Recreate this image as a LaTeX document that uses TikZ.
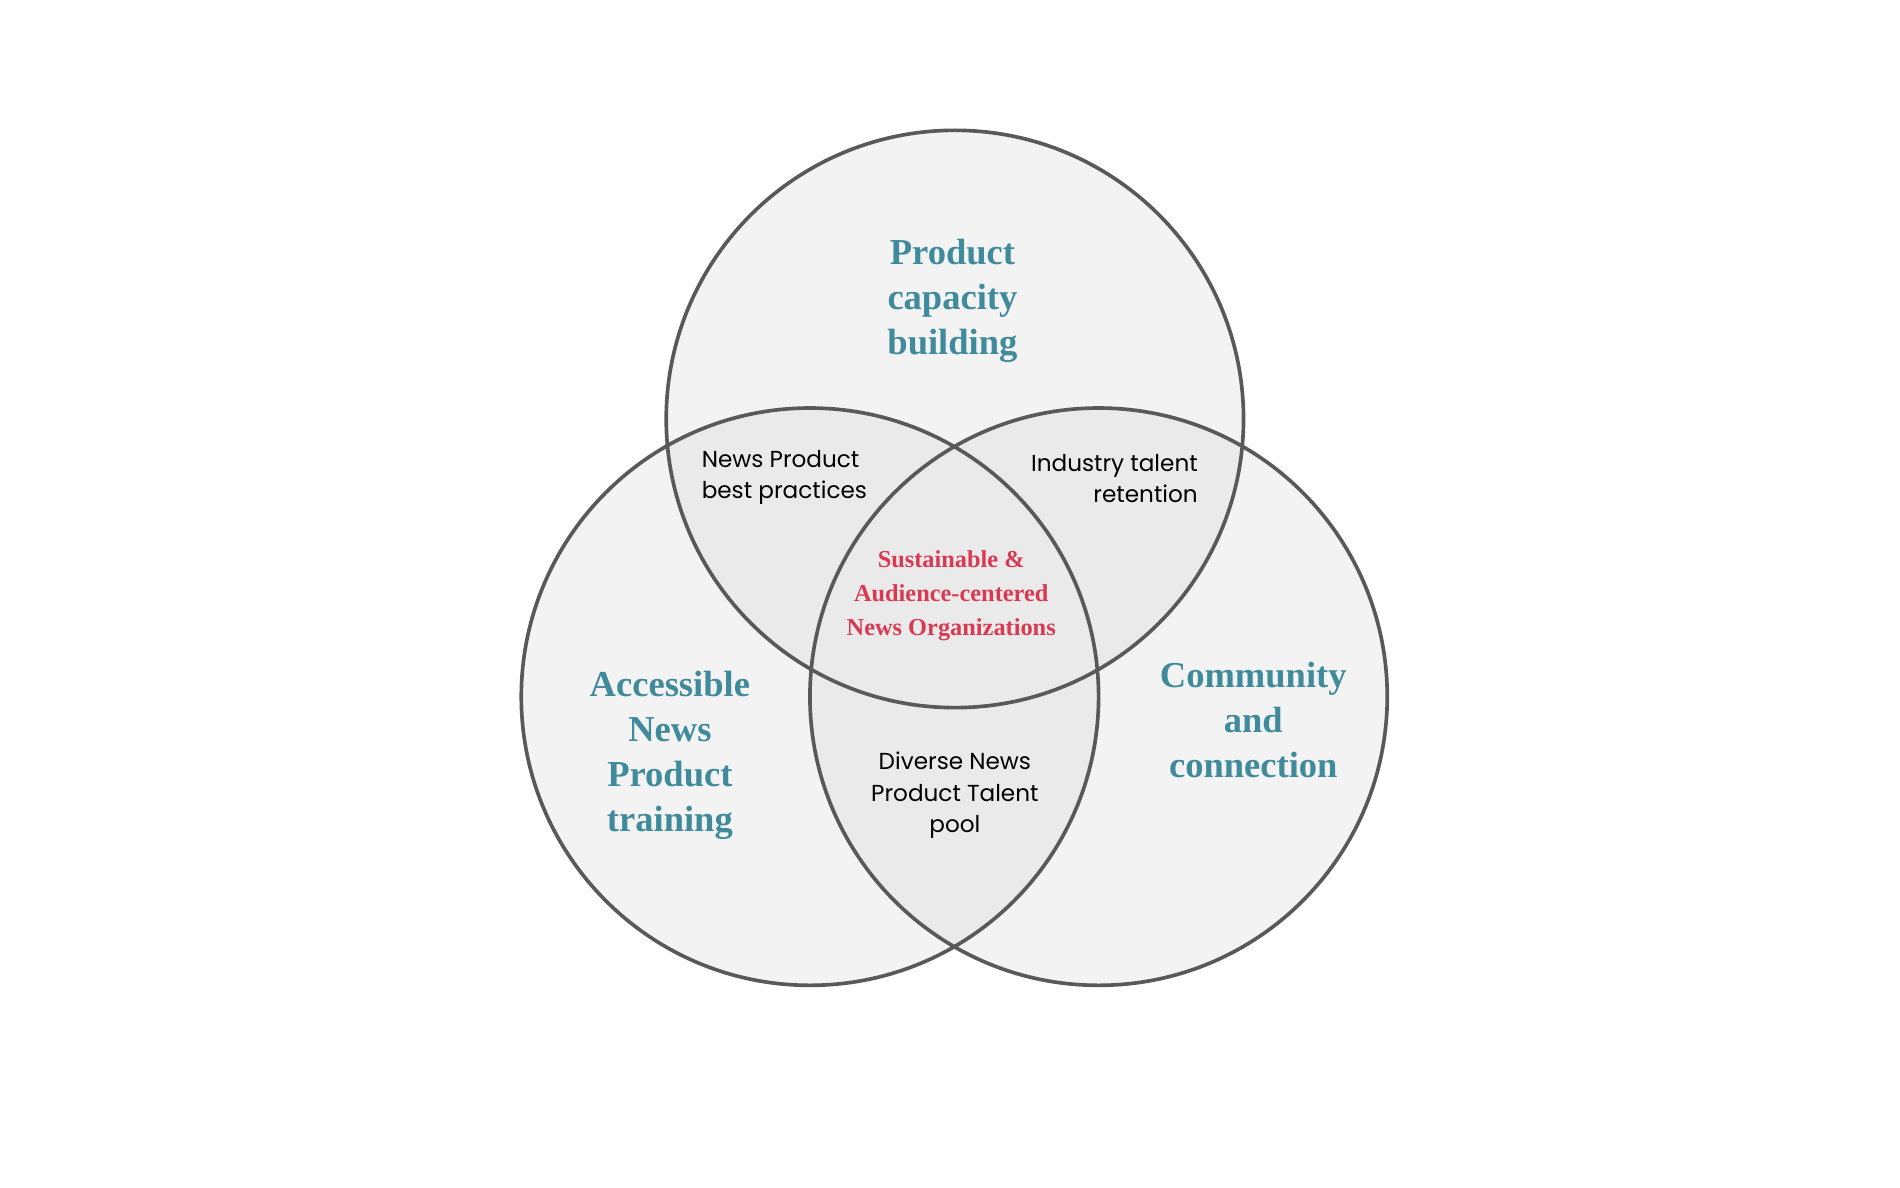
\documentclass[tikz,border=0pt]{standalone}
\usepackage{fontspec}
\setmainfont{Liberation Serif}
\newfontfamily\smallsans{Poppins}
\definecolor{teal1}{HTML}{3F8A9B}
\definecolor{red1}{HTML}{D93A52}
\definecolor{edge}{HTML}{595959}
\definecolor{f1}{HTML}{F3F3F3}
\definecolor{f2}{HTML}{EAEAEA}
\tikzset{
  big/.style={text=teal1,font=\bfseries\fontsize{30}{37}\selectfont,align=center},
  sm/.style={text=black,font=\smallsans\fontsize{19}{26}\selectfont},
  ctr/.style={text=red1,font=\bfseries\fontsize{20}{28}\selectfont,align=center}
}
\begin{document}
\begin{tikzpicture}[x=1pt,y=-1pt]
\useasboundingbox (0,0) rectangle (1560,975);
\def\R{237}
\coordinate (T) at (784,344);
\coordinate (L) at (665,572);
\coordinate (Rt) at (902,572);
\fill[f1] (T) circle (\R) (L) circle (\R) (Rt) circle (\R);
\begin{scope}\clip (T) circle (\R); \fill[f2] (L) circle (\R) (Rt) circle (\R);\end{scope}
\begin{scope}\clip (L) circle (\R); \fill[f2] (Rt) circle (\R);\end{scope}
\draw[edge,line width=3] (T) circle (\R) (L) circle (\R) (Rt) circle (\R);
\node[big] (a) at (782,247) {Product\\capacity\\building};
\node[big] (b) at (550,620) {Accessible\\News\\Product\\training};
\node[big] (c) at (1029,591) {Community\\and\\connection};
\node[sm,align=left] (d) at (644,392) {News Product\\best practices};
\node[sm,align=right] (e) at (915,393) {Industry talent\\retention};
\node[sm,align=center] (f) at (784,653) {Diverse News\\Product Talent\\pool};
\node[ctr] (g) at (781,489) {Sustainable \&\\Audience-centered\\News Organizations};
\end{tikzpicture}
\end{document}
